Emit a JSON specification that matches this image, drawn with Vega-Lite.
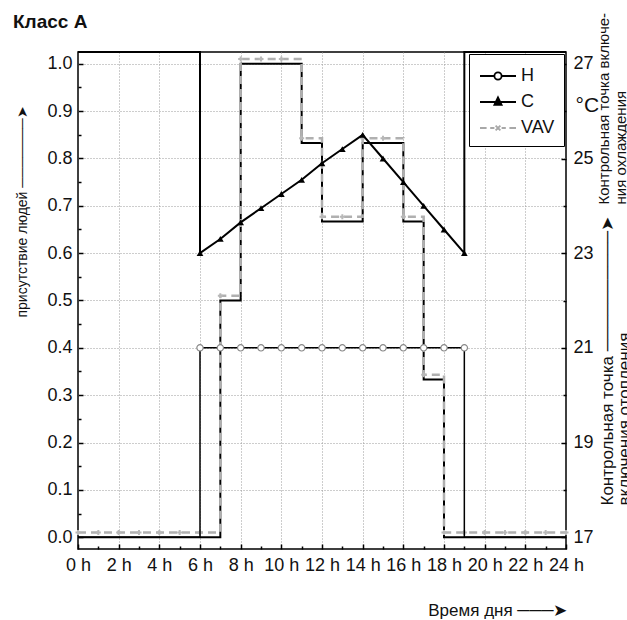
{
  "$schema": "https://vega.github.io/schema/vega-lite/v6.json",
  "autosize": "none",
  "width": 488,
  "height": 497,
  "padding": {"left": 78, "top": 52, "right": 61, "bottom": 71},
  "background": "white",
  "title": {"text": "Класс А", "anchor": "start", "frame": "group", "dx": -65, "dy": 35, "offset": 0, "baseline": "alphabetic", "fontSize": 19, "fontWeight": "bold", "font": "Liberation Sans", "color": "#111"},
  "datasets": {
    "occ": [
      {"hour": 0, "value": 0}, {"hour": 7, "value": 0.5}, {"hour": 8, "value": 1.0},
      {"hour": 11, "value": 0.833}, {"hour": 12, "value": 0.667}, {"hour": 14, "value": 0.833},
      {"hour": 16, "value": 0.667}, {"hour": 17, "value": 0.333}, {"hour": 18, "value": 0},
      {"hour": 24, "value": 0}
    ],
    "vav": [
      {"hour": 0, "value": 0.01}, {"hour": 1, "value": 0.01}, {"hour": 2, "value": 0.01},
      {"hour": 3, "value": 0.01}, {"hour": 4, "value": 0.01}, {"hour": 5, "value": 0.01},
      {"hour": 6, "value": 0.01}, {"hour": 7, "value": 0.51}, {"hour": 8, "value": 1.01},
      {"hour": 9, "value": 1.01}, {"hour": 10, "value": 1.01}, {"hour": 11, "value": 0.843},
      {"hour": 12, "value": 0.677}, {"hour": 13, "value": 0.677}, {"hour": 14, "value": 0.843},
      {"hour": 15, "value": 0.843}, {"hour": 16, "value": 0.677}, {"hour": 17, "value": 0.343},
      {"hour": 18, "value": 0.01}, {"hour": 19, "value": 0.01}, {"hour": 20, "value": 0.01},
      {"hour": 21, "value": 0.01}, {"hour": 22, "value": 0.01}, {"hour": 23, "value": 0.01},
      {"hour": 24, "value": 0.01}
    ],
    "heat": [
      {"seq": 1, "hour": 0, "temp": 17}, {"seq": 2, "hour": 6, "temp": 17},
      {"seq": 3, "hour": 6, "temp": 21}, {"seq": 4, "hour": 7, "temp": 21},
      {"seq": 5, "hour": 8, "temp": 21}, {"seq": 6, "hour": 9, "temp": 21},
      {"seq": 7, "hour": 10, "temp": 21}, {"seq": 8, "hour": 11, "temp": 21},
      {"seq": 9, "hour": 12, "temp": 21}, {"seq": 10, "hour": 13, "temp": 21},
      {"seq": 11, "hour": 14, "temp": 21}, {"seq": 12, "hour": 15, "temp": 21},
      {"seq": 13, "hour": 16, "temp": 21}, {"seq": 14, "hour": 17, "temp": 21},
      {"seq": 15, "hour": 18, "temp": 21}, {"seq": 16, "hour": 19, "temp": 21},
      {"seq": 17, "hour": 19, "temp": 17}, {"seq": 18, "hour": 24, "temp": 17}
    ],
    "cool": [
      {"seq": 1, "hour": 0, "temp": 27.25}, {"seq": 2, "hour": 6, "temp": 27.25},
      {"seq": 3, "hour": 6, "temp": 23}, {"seq": 4, "hour": 7, "temp": 23.3},
      {"seq": 5, "hour": 8, "temp": 23.65}, {"seq": 6, "hour": 9, "temp": 23.95},
      {"seq": 7, "hour": 10, "temp": 24.25}, {"seq": 8, "hour": 11, "temp": 24.55},
      {"seq": 9, "hour": 12, "temp": 24.9}, {"seq": 10, "hour": 13, "temp": 25.2},
      {"seq": 11, "hour": 14, "temp": 25.5}, {"seq": 12, "hour": 15, "temp": 25.0},
      {"seq": 13, "hour": 16, "temp": 24.5}, {"seq": 14, "hour": 17, "temp": 24.0},
      {"seq": 15, "hour": 18, "temp": 23.5}, {"seq": 16, "hour": 19, "temp": 23},
      {"seq": 17, "hour": 19, "temp": 27.25}, {"seq": 18, "hour": 24, "temp": 27.25}
    ]
  },
  "layer": [
    {
      "encoding": {
        "x": {
          "field": "hour", "type": "quantitative",
          "scale": {"domain": [0, 24], "nice": false},
          "axis": {
            "orient": "bottom",
            "values": [0,1,2,3,4,5,6,7,8,9,10,11,12,13,14,15,16,17,18,19,20,21,22,23,24],
            "labelExpr": "datum.value % 2 == 0 ? datum.value + ' h' : ''",
            "tickSize": {"condition": {"test": "datum.value % 2 == 1", "value": -3}, "value": -5},
            "gridOpacity": {"condition": {"test": "datum.value % 2 == 1 || datum.value == 0 || datum.value == 24", "value": 0}, "value": 1},
            "labelPadding": 12,
            "title": "Время дня  ───➤",
            "titleFontSize": 17,
            "titleAnchor": "end",
            "titleAlign": "right",
            "titleBaseline": "middle",
            "titleX": 489,
            "titleY": 61
          }
        },
        "y": {
          "field": "value", "type": "quantitative",
          "scale": {"domain": [-0.025, 1.025], "nice": false, "zero": false},
          "axis": {
            "orient": "left",
            "values": [0, 0.05, 0.1, 0.15, 0.2, 0.25, 0.3, 0.35, 0.4, 0.45, 0.5, 0.55, 0.6, 0.65, 0.7, 0.75, 0.8, 0.85, 0.9, 0.95, 1.0],
            "labelExpr": "round(datum.value * 20) % 2 == 0 ? format(datum.value, '.1f') : ''",
            "tickSize": {"condition": {"test": "round(datum.value * 20) % 2 == 1", "value": -3}, "value": -5},
            "gridOpacity": {"condition": {"test": "round(datum.value * 20) % 2 == 1 || datum.value == 0", "value": 0}, "value": 1},
            "labelPadding": 11,
            "title": "присутствие людей     ───────➤",
            "titleFontSize": 14,
            "titleAngle": 270,
            "titleAlign": "left",
            "titleBaseline": "middle",
            "titleX": -56,
            "titleY": 265
          }
        }
      },
      "layer": [
        {"data": {"name": "occ"}, "mark": {"type": "line", "interpolate": "step-after", "color": "black", "strokeWidth": 2}},
        {"data": {"name": "vav"}, "mark": {"type": "line", "interpolate": "step-after", "color": "#b0b0b0", "strokeWidth": 2.5, "strokeDash": [8, 5]}},
        {"data": {"name": "vav"}, "mark": {"type": "point", "shape": "cross", "filled": true, "size": 25, "color": "#b8b8b8", "opacity": 1}}
      ]
    },
    {
      "encoding": {
        "x": {
          "field": "hour", "type": "quantitative",
          "scale": {"domain": [0, 24], "nice": false},
          "axis": {
            "orient": "top",
            "domain": false, "ticks": false, "labels": false, "grid": false,
            "title": ["Контрольная точка         ──────────➤", "включения отопления"],
            "titleFontSize": 17,
            "titleLineHeight": 17,
            "titleAngle": 270,
            "titleAlign": "left",
            "titleBaseline": "top",
            "titleX": 521,
            "titleY": 453
          }
        },
        "y": {
          "field": "temp", "type": "quantitative",
          "scale": {"domain": [16.75, 27.25], "nice": false, "zero": false},
          "axis": {
            "orient": "right",
            "grid": false,
            "values": [17, 18, 19, 20, 21, 22, 23, 24, 25, 26, 27],
            "labelExpr": "datum.value == 26 ? '°C' : (datum.value % 2 == 1 ? datum.value : '')",
            "tickSize": {"condition": {"test": "datum.value % 2 == 0", "value": -3}, "value": -5},
            "labelOffset": {"condition": {"test": "datum.value == 26", "value": -6}, "value": 0},
            "labelFontSize": {"condition": {"test": "datum.value == 26", "value": 21}, "value": 18},
            "labelPadding": 12,
            "title": ["Контрольная точка включе-", "ния охлаждения"],
            "titleFontSize": 15,
            "titleLineHeight": 17,
            "titleAngle": 270,
            "titleAlign": "left",
            "titleBaseline": "top",
            "titleX": 30,
            "titleY": 152
          }
        }
      },
      "layer": [
        {"data": {"name": "heat"}, "mark": {"type": "line", "color": "black", "strokeWidth": 1.5}, "encoding": {"order": {"field": "seq"}}},
        {
          "data": {"name": "heat"},
          "transform": [{"filter": "datum.temp == 21"}],
          "mark": {"type": "point", "shape": "circle", "filled": false, "fill": "white", "stroke": "#888888", "strokeWidth": 1.2, "size": 40, "opacity": 1}
        },
        {"data": {"name": "cool"}, "mark": {"type": "line", "color": "black", "strokeWidth": 2}, "encoding": {"order": {"field": "seq"}}},
        {
          "data": {"name": "cool"},
          "transform": [{"filter": "datum.temp < 27"}],
          "mark": {"type": "point", "shape": "triangle-up", "filled": true, "color": "black", "size": 45, "opacity": 1}
        },
        {
          "data": {"values": []},
          "mark": {"type": "point", "filled": true, "opacity": 1},
          "encoding": {
            "shape": {
              "field": "series", "type": "nominal",
              "scale": {
                "domain": ["H", "C", "VAV"],
                "range": [
                  "M-1.5,0H-0.3M0.3,0H1.5M0.3,0A0.3,0.3,0,1,1,-0.3,0A0.3,0.3,0,1,1,0.3,0",
                  "M-1.5,0H1.5M0,-0.38L0.3,0.24L-0.3,0.24Z",
                  "M-1.5,0H-0.95M-0.65,0H-0.3M0.3,0H0.65M0.95,0H1.5M-0.2,-0.2L0.2,0.2M-0.2,0.2L0.2,-0.2"
                ]
              },
              "legend": {
                "title": null,
                "orient": "top-right",
                "offset": 2,
                "padding": 9,
                "fillColor": "white",
                "strokeColor": "black",
                "symbolSize": 576,
                "symbolOffset": 7,
                "symbolStrokeWidth": 1.8,
                "symbolOpacity": 1,
                "rowPadding": 4,
                "labelOffset": 10,
                "labelFontSize": 18,
                "labelColor": "#111"
              }
            },
            "fill": {
              "field": "series", "type": "nominal",
              "scale": {"domain": ["H", "C", "VAV"], "range": ["white", "black", "transparent"]}
            },
            "stroke": {
              "field": "series", "type": "nominal",
              "scale": {"domain": ["H", "C", "VAV"], "range": ["black", "black", "#a8a8a8"]}
            }
          }
        }
      ]
    }
  ],
  "resolve": {"scale": {"y": "independent"}, "axis": {"x": "independent", "y": "independent"}},
  "config": {
    "font": "Liberation Sans",
    "view": {"stroke": "black", "strokeWidth": 1.5},
    "legend": {"labelFont": "Liberation Sans"},
    "axis": {
      "domain": false,
      "labelFont": "Liberation Sans",
      "labelFontSize": 18,
      "labelColor": "#111",
      "tickColor": "black",
      "tickWidth": 1.5,
      "gridColor": "#9a9a9a",
      "gridDash": [1, 2],
      "gridWidth": 1,
      "titleFont": "Liberation Sans",
      "titleFontWeight": "normal",
      "titleColor": "#111",
      "labelOverlap": false,
      "labelFlush": false
    }
  }
}
